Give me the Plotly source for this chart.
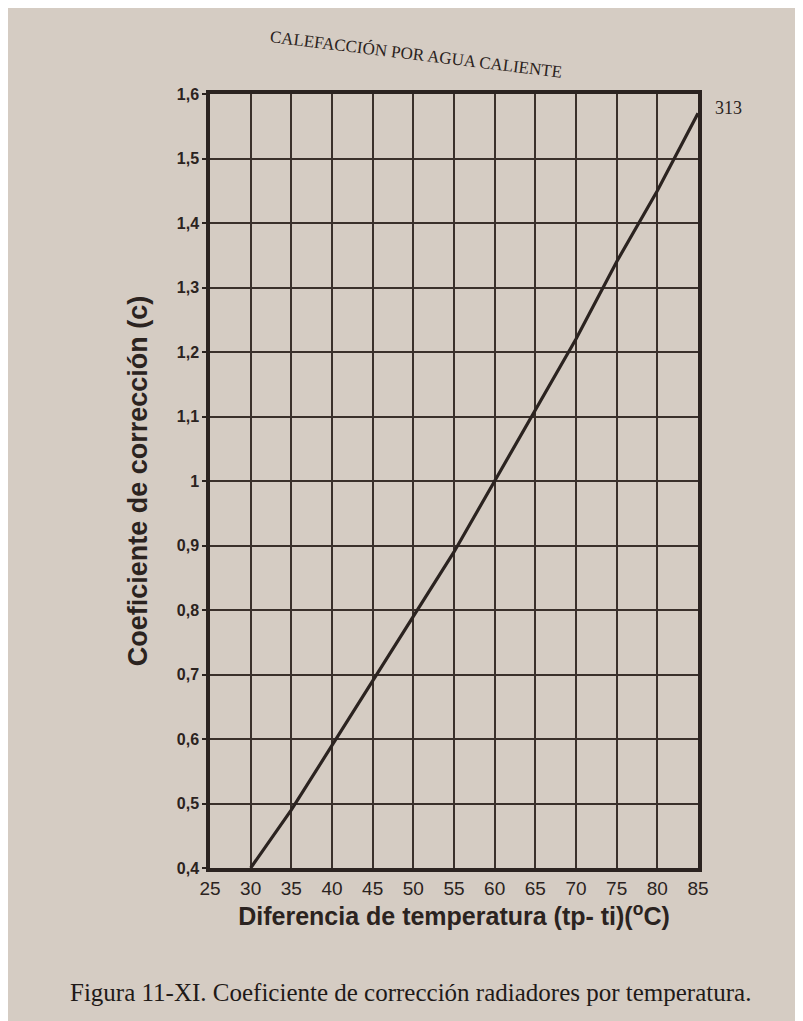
import plotly.graph_objects as go

# Data
temp_diff = [30, 35, 40, 45, 50, 55, 60, 65, 70, 75, 80, 85]
coef = [0.40, 0.49, 0.59, 0.69, 0.79, 0.89, 1.00, 1.11, 1.22, 1.34, 1.45, 1.57]

x_ticks = [25, 30, 35, 40, 45, 50, 55, 60, 65, 70, 75, 80, 85]
y_ticks = [0.4, 0.5, 0.6, 0.7, 0.8, 0.9, 1.0, 1.1, 1.2, 1.3, 1.4, 1.5, 1.6]
y_labels = ["0,4", "0,5", "0,6", "0,7", "0,8", "0,9", "1", "1,1", "1,2", "1,3", "1,4", "1,5", "1,6"]

paper = "#d5ccc3"
ink = "#2b2320"

W, H = 803, 1021
l, r, t, b = 202, 113, 86, 161

fig = go.Figure()
fig.add_trace(go.Scatter(
    x=temp_diff, y=coef, mode="lines",
    line=dict(color=ink, width=3.2),
    hoverinfo="x+y", showlegend=False,
))

pw, ph = W - l - r, H - t - b
def px(xp, yp):
    return (xp - l) / pw, (H - b - yp) / ph

def ann(text, xp, yp, size, family, angle=0, color=ink):
    xx, yy = px(xp, yp)
    return dict(text=text, x=xx, y=yy, xref="paper", yref="paper",
                xanchor="center", yanchor="middle", showarrow=False,
                textangle=angle, font=dict(family=family, size=size, color=color))

serif = "Liberation Serif, serif"

fig.update_layout(
    width=W, height=H,
    paper_bgcolor=paper, plot_bgcolor=paper,
    margin=dict(l=l, r=r, t=t, b=b),
    font=dict(family="Liberation Sans, Arial, sans-serif", color=ink),
    xaxis=dict(
        range=[25, 85], tickvals=x_ticks, ticktext=[str(v) for v in x_ticks],
        showgrid=True, gridcolor="#3a302b", gridwidth=1.6,
        showline=True, linecolor=ink, linewidth=3.5, mirror=True,
        ticks="", zeroline=False,
        tickfont=dict(size=19, color=ink),
        title=dict(text="<b>Diferencia de temperatura (tp- ti)(<sup>o</sup>C)</b>",
                   font=dict(size=25, color=ink), standoff=10),
    ),
    yaxis=dict(
        range=[0.4, 1.6], tickvals=y_ticks, ticktext=["<b>%s</b>" % tt for tt in y_labels],
        showgrid=True, gridcolor="#3a302b", gridwidth=1.6,
        showline=True, linecolor=ink, linewidth=3.5, mirror=True,
        ticks="outside", ticklen=4, tickcolor=ink, tickwidth=1.6, zeroline=False,
        tickfont=dict(size=16, color=ink),
        title=dict(text="<b>Coeficiente de corrección (c)</b>",
                   font=dict(size=27, color=ink), standoff=22),
    ),
    annotations=[
        ann("CALEFACCIÓN POR AGUA CALIENTE", 408, 47, 17, serif, angle=7),
        ann("313", 720, 100, 18, serif),
        ann("Figura 11-XI. Coeficiente de corrección radiadores por temperatura.",
            402, 985, 25, serif, color="#1f1a18"),
    ],
)

fig.write_html("out.html")
